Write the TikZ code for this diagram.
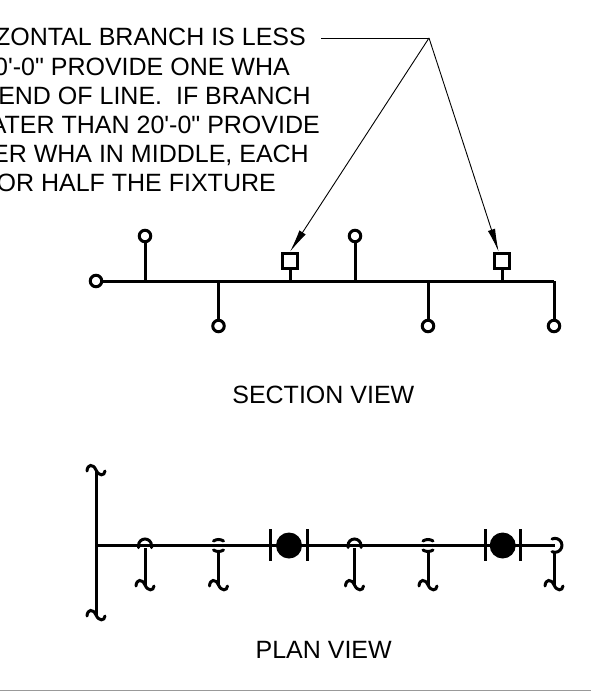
\documentclass[tikz,border=0pt]{standalone}
\usepackage{fontspec}
\setmainfont{Liberation Sans}[Ligatures=TeXOff]
\usetikzlibrary{arrows.meta}
\tikzset{
  x=1pt,y=-1pt,
  pipe/.style={line width=3pt,black},
  pipetip/.style={line width=3pt,black,line cap=round},
  leader/.style={line width=0.9pt,black},
  leaderarrow/.style={leader,-{Latex[length=23pt,width=7.5pt]}},
  head/.style={circle,draw=black,fill=white,line width=3pt,minimum size=11.5pt,inner sep=0pt},
  wha/.style={rectangle,draw=black,fill=white,line width=3pt,minimum size=15.5pt,inner sep=0pt},
  fixture/.style={circle,fill=black,minimum size=26pt,inner sep=0pt},
  caption/.style={font=\fontsize{25}{29}\selectfont,inner sep=0pt,anchor=base},
  notetext/.style={font=\fontsize{25}{29}\selectfont,inner sep=0pt,anchor=base east},
  scurl/.pic={\draw[pipetip] (-9,1) .. controls (-8.5,-6) and (-3,-6.5) .. (0,0) .. controls (3,6.5) and (8.5,6) .. (9,1);},
  hoopfull/.pic={\draw[pipetip] (-6.5,2) -- (-6.5,0) arc[start angle=180,end angle=0,radius=6.5pt] -- (6.5,2);},
  hoopsplit/.pic={\draw[pipetip] (-5,-4.5) .. controls (-2,-6.5) and (2,-6.5) .. (5,-4.5);
                   \draw[pipetip] (-5,4.5) .. controls (-2,6.5) and (2,6.5) .. (5,4.5);},
  hoopend/.pic={\draw[pipetip] (-3,-6.5) arc[start angle=115,end angle=-115,radius=7pt];},
  bar/.style={line width=3pt,black},
}
\begin{document}
\begin{tikzpicture}
\useasboundingbox (0,0) rectangle (607,692);
\begin{scope}
\clip (0,0) rectangle (607,692);
\node[notetext] (n1) at (306,46) {ZONTAL BRANCH IS LESS};
\node[notetext] (n2) at (290,75.5) {0'-0" PROVIDE ONE WHA};
\node[notetext] (n3) at (311,104.5) {END OF LINE.\ \ IF BRANCH};
\node[notetext] (n4) at (320,134) {ATER THAN 20'-0" PROVIDE};
\node[notetext] (n5) at (309,163) {ER WHA IN MIDDLE, EACH};
\node[notetext] (n6) at (276,192) {OR HALF THE FIXTURE};
\end{scope}
% section view
\coordinate (s1) at (145,281);
\coordinate (s2) at (218.5,281);
\coordinate (s3) at (290,281);
\coordinate (s4) at (355,281);
\coordinate (s5) at (428,281);
\coordinate (s6) at (502,281);
\coordinate (s7) at (554,281);
\node[head] (h0) at (96,281) {};
\node[head] (h1) at (145,236) {};
\node[head] (h2) at (218.5,326) {};
\node[head] (h4) at (355,236) {};
\node[head] (h5) at (428,326) {};
\node[head] (h7) at (554,326) {};
\node[wha] (q1) at (290,261) {};
\node[wha] (q2) at (502,261) {};
\draw[pipe] (h0) -- (s7);
\draw[pipe] (s1) -- (h1);
\draw[pipe] (s2) -- (h2);
\draw[pipe] (s3) -- (q1);
\draw[pipe] (s4) -- (h4);
\draw[pipe] (s5) -- (h5);
\draw[pipe] (s6) -- (q2);
\draw[pipe] (s7) -- (h7);
% leader
\coordinate (ap) at (429,38);
\coordinate (ls) at (321,38);
\draw[leader] (ls) -- (ap);
\draw[leaderarrow] (ap) -- (q1.north);
\draw[leaderarrow] (ap) -- (q2.110);
\node[caption] (secv) at (323.3,403) {SECTION VIEW};
% plan view
\coordinate (mt) at (96,470);
\coordinate (mb) at (96,615);
\coordinate (mj) at (96,545.5);
\coordinate (me) at (555,545.5);
\draw[pipe] (mt) -- (mb);
\draw[pipe] (mj) -- (me);
\pic at (mt) {scurl};
\pic at (mb) {scurl};
\node[fixture] (f1) at (289,545.5) {};
\node[fixture] (f2) at (502.7,545.5) {};
\coordinate (b1t) at (270.5,529); \coordinate (b1b) at (270.5,561);
\coordinate (b2t) at (307,529);   \coordinate (b2b) at (307,561);
\coordinate (b3t) at (485,529);   \coordinate (b3b) at (485,561);
\coordinate (b4t) at (520.7,529); \coordinate (b4b) at (520.7,561);
\draw[bar] (b1t) -- (b1b);
\draw[bar] (b2t) -- (b2b);
\draw[bar] (b3t) -- (b3b);
\draw[bar] (b4t) -- (b4b);
% drops
\coordinate (d1) at (145,548);   \coordinate (e1) at (145,585);
\coordinate (d2) at (218.5,552); \coordinate (e2) at (218.5,585);
\coordinate (d3) at (354.5,548); \coordinate (e3) at (354.5,585);
\coordinate (d4) at (428,552);   \coordinate (e4) at (428,585);
\coordinate (d5) at (554,553);   \coordinate (e5) at (554,585);
\draw[pipe] (d1) -- (e1);
\draw[pipe] (d2) -- (e2);
\draw[pipe] (d3) -- (e3);
\draw[pipe] (d4) -- (e4);
\draw[pipe] (d5) -- (e5);
\pic at (e1) {scurl};
\pic at (e2) {scurl};
\pic at (e3) {scurl};
\pic at (e4) {scurl};
\pic at (e5) {scurl};
\pic at (145,545.5) {hoopfull};
\pic at (354.5,545.5) {hoopfull};
\pic at (218.5,545.5) {hoopsplit};
\pic at (428,545.5) {hoopsplit};
\pic at (555,545.5) {hoopend};
\node[caption] (plnv) at (323.7,658.5) {PLAN VIEW};
\coordinate (g1) at (0,690.5);
\coordinate (g2) at (591,690.5);
\draw[line width=1.2pt,black!40] (g1) -- (g2);
\end{tikzpicture}
\end{document}
